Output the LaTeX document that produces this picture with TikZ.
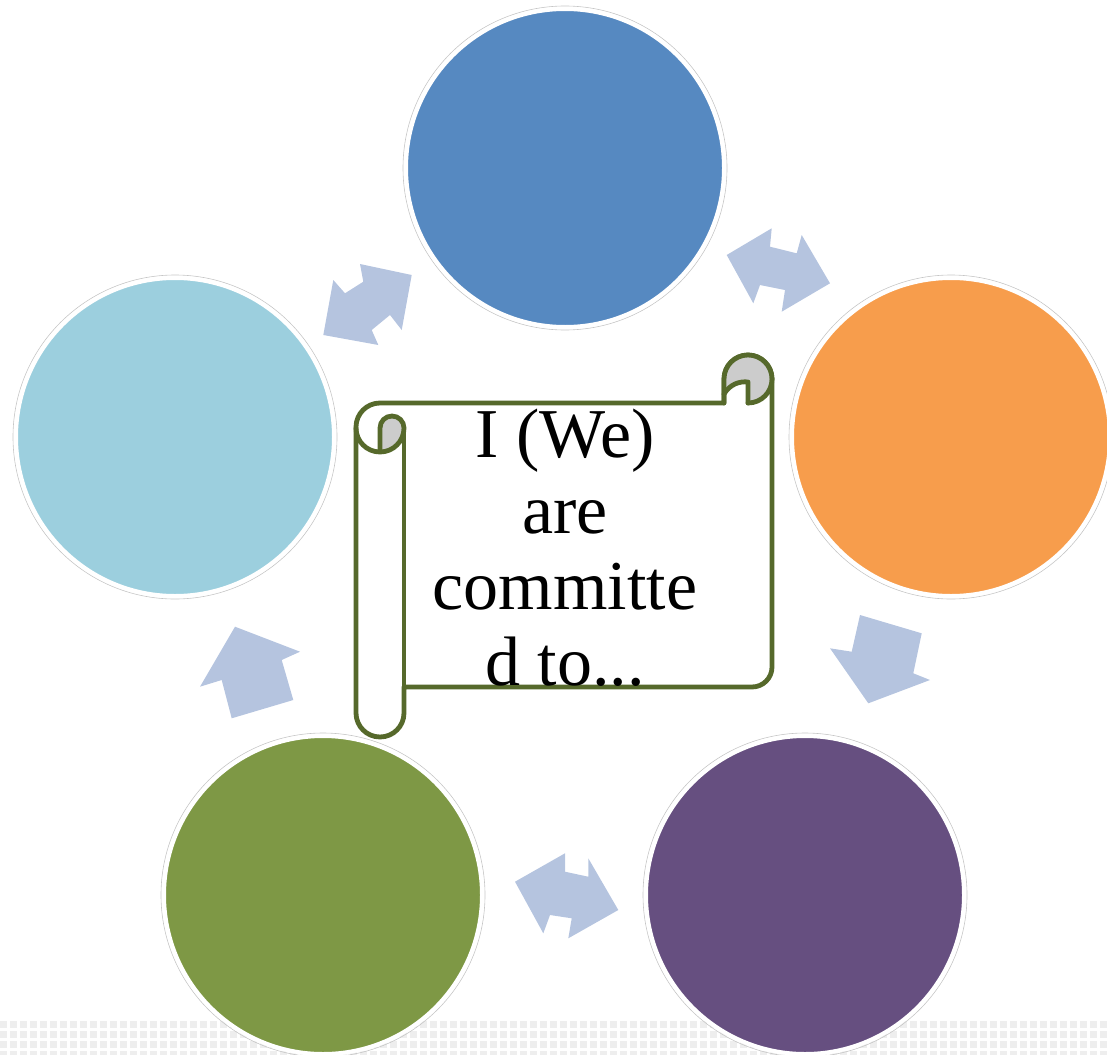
\documentclass[tikz,border=0pt]{standalone}
\usepackage{fontspec}
\setmainfont{Liberation Serif}
\definecolor{cblue}{HTML}{5689C1}
\definecolor{corange}{HTML}{F79D4C}
\definecolor{clight}{HTML}{9CCFDE}
\definecolor{cgreen}{HTML}{7E9845}
\definecolor{cpurple}{HTML}{664F80}
\definecolor{carrow}{HTML}{B5C4DF}
\definecolor{sgreen}{HTML}{56692B}
\definecolor{sgray}{HTML}{CCCCCC}
\definecolor{cdot}{HTML}{EEEEEE}
\tikzset{
  bubble/.style={circle, minimum size=318pt, inner sep=0pt, fill=#1, draw=white, line width=4pt},
  halo/.style={draw=gray!45, line width=0.6pt},
  cyclearrow/.style={fill=carrow, draw=none},
  scrollline/.style={draw=sgreen, line width=4.8pt, line join=round, line cap=round},
  scrolltext/.style={anchor=base, inner sep=0pt, font=\fontsize{70}{76}\selectfont},
  dot/.style={fill=cdot, draw=none}
}
\begin{document}
\begin{tikzpicture}[x=1pt,y=1pt]
\useasboundingbox (0,0) rectangle (1107,-1054);
% dotted strip
\foreach \xx in {0,10,...,1107} {
  \foreach \yy in {1021,1031,1041,1051} {
    \fill[dot] (\xx,-\yy) rectangle ++(6.5,-6.5);
  }
}
% circles
\foreach \nm/\cx/\cy/\col in {top/565/168/cblue, right/951/437/corange, left/175/437/clight, bl/323/895/cgreen, br/805/895/cpurple} {
  \draw[halo] (\cx,-\cy) circle[radius=162];
  \node[bubble=\col] (\nm) at (\cx,-\cy) {};
}
% arrows
\fill[cyclearrow] (726.7,-255) -- (771.7,-228.3) -- (770,-246.7) -- (796.7,-253.3) -- (801.7,-235) -- (830,-283.3) -- (781.7,-311.7) -- (785,-290) -- (760,-285) -- (753.3,-303.3) -- cycle;
\fill[cyclearrow] (411.7,-275) -- (401.7,-330) -- (390,-315) -- (371.7,-330) -- (378.3,-345) -- (323.3,-335) -- (333.3,-280) -- (345,-293.3) -- (363.3,-281.7) -- (360,-264) -- cycle;
\fill[cyclearrow] (860,-615) -- (921.7,-633.3) -- (913.3,-673.3) -- (930,-680) -- (868.3,-703.3) -- (830,-648.3) -- (851.7,-651.7) -- cycle;
\fill[cyclearrow] (235,-626.7) -- (300,-651.7) -- (281.7,-660) -- (293.3,-700) -- (231.7,-718.3) -- (221.7,-680) -- (200,-686.7) -- cycle;
\fill[cyclearrow] (515,-881.7) -- (565,-853.3) -- (565,-871.7) -- (588.3,-876.7) -- (588.3,-858.3) -- (618.3,-910) -- (568.3,-938.3) -- (571.7,-918.3) -- (550,-915) -- (543.3,-933.3) -- cycle;
% scroll body
\path[scrollline, fill=white] (404,-687) -- (752,-687) arc[start angle=270, end angle=360, radius=20]
  -- (772,-379) arc[start angle=0, end angle=180, radius=24] -- (724,-403) -- (380,-403)
  arc[start angle=90, end angle=180, radius=24] -- (356,-713) arc[start angle=180, end angle=360, radius=24] -- cycle;
\draw[scrollline] (404,-428) -- (404,-713);
% top-right roll
\path[fill=sgray] (748,-403) arc[start angle=-90, end angle=180, radius=24] -- (724,-394)
  .. controls (730,-384) and (740,-381) .. (748,-382) -- cycle;
\draw[scrollline] (772,-379) arc[start angle=0, end angle=180, radius=24] -- (724,-403);
\draw[scrollline] (772,-379) arc[start angle=0, end angle=-90, radius=24];
\draw[scrollline] (724,-394) .. controls (730,-384) and (740,-381) .. (748,-382) -- (748,-403);
% left roll top
\path[fill=sgray] (380,-428) -- (380,-452) arc[start angle=270, end angle=360, radius=24]
  arc[start angle=0, end angle=180, radius=12] -- cycle;
\draw[scrollline] (356,-428) arc[start angle=180, end angle=360, radius=24]
  arc[start angle=0, end angle=180, radius=12] -- (380,-452);
% text
\node[scrolltext] (t1) at (565,-457) {I (We)};
\node[scrolltext] (t2) at (565,-533) {are};
\node[scrolltext] (t3) at (565,-609) {committe};
\node[scrolltext] (t4) at (565,-685) {d to...};
\end{tikzpicture}
\end{document}
